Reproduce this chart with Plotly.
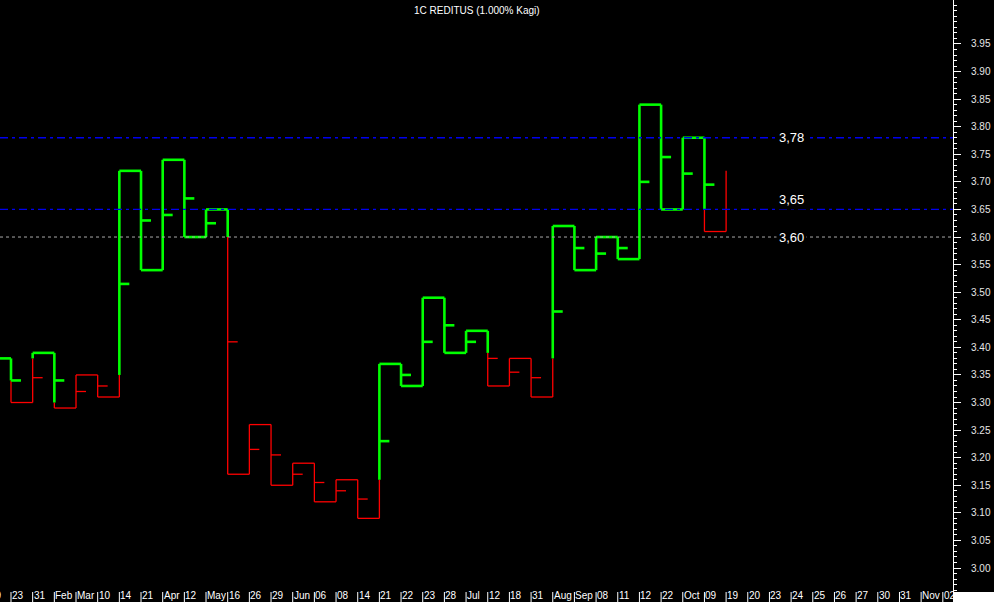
import plotly.graph_objects as go

# ---------------- data ----------------
title_text = "1C REDITUS (1.000% Kagi)"
# Kagi reversal levels (first value is the off-screen start of the first segment)
levels = [3.34, 3.38, 3.30, 3.39, 3.29, 3.35, 3.31, 3.72, 3.54, 3.74, 3.60, 3.65,
          3.17, 3.26, 3.15, 3.19, 3.12, 3.16, 3.09, 3.37, 3.33, 3.49, 3.39, 3.43,
          3.33, 3.38, 3.31, 3.62, 3.54, 3.60, 3.56, 3.84, 3.65, 3.78, 3.61, 3.72]
first_col = -1
date_labels = ["19", "23", "31", "Feb", "Mar", "10", "14", "21", "Apr", "12", "May",
               "16", "26", "29", "Jun", "06", "08", "14", "21", "22", "23", "28",
               "Jul", "12", "18", "31", "Aug", "Sep", "08", "11", "12", "22", "Oct",
               "09", "19", "20", "23", "24", "25", "26", "27", "30", "31", "Nov", "02"]
ref_levels = [3.78, 3.65]
ref_labels = ["3,78", "3,65"]
dot_level = 3.60
dot_label = "3,60"
ytick_vals = [round(3.00 + 0.05 * i, 2) for i in range(20)]

# ---------------- layout constants ----------------
X0, X1 = -0.5076, 43.47
Y0, Y1 = 2.9565, 4.0297
GREEN, RED = "#00ff00", "#ff0000"
TICK_LEN = 0.46

# ---------------- build kagi segments ----------------
gx, gy, rx, ry = [], [], [], []


def add(color, xs, ys):
    if color == "g":
        gx.extend(xs + [None]); gy.extend(ys + [None])
    else:
        rx.extend(xs + [None]); ry.extend(ys + [None])


state = "g"
n = len(levels) - 1
for j in range(n):
    c = first_col + j
    a, b = levels[j], levels[j + 1]
    start_state = state
    switch = None
    if j >= 1:
        prev = levels[j - 1]
        if b > a and state == "r" and b > prev:
            switch = prev
        elif b < a and state == "g" and b < prev:
            switch = prev
    if switch is None:
        add(state, [c, c], [a, b])
    else:
        add(state, [c, c], [a, switch])
        state = "g" if state == "r" else "r"
        add(state, [c, c], [switch, b])
    if j < n - 1:
        # midpoint marker
        mid = (a + b) / 2
        if switch is None:
            mcol = state
        else:
            if b > a:
                mcol = state if mid > switch else start_state
            else:
                mcol = state if mid < switch else start_state
        add(mcol, [c, c + TICK_LEN], [mid, mid])
        # horizontal connector
        add(state, [c, c + 1], [b, b])

fig = go.Figure()
fig.add_trace(go.Scatter(x=rx, y=ry, mode="lines", line=dict(color=RED, width=1.3),
                         hoverinfo="skip", showlegend=False))
fig.add_trace(go.Scatter(x=gx, y=gy, mode="lines", line=dict(color=GREEN, width=2.6),
                         hoverinfo="skip", showlegend=False))

shapes = []
for lv in ref_levels:
    shapes.append(dict(type="line", xref="paper", x0=0, x1=1, yref="y", y0=lv, y1=lv,
                       line=dict(color="#0000ee", width=1.3, dash="8px,4px,3px,4px"),
                       layer="above"))
shapes.append(dict(type="line", xref="paper", x0=0, x1=1, yref="y", y0=dot_level,
                   y1=dot_level, line=dict(color="#a8a8a8", width=1, dash="3px,3px"),
                   layer="above"))
# x label separators
for k in range(len(date_labels)):
    c = first_col + k
    shapes.append(dict(type="line", xref="x", x0=c, x1=c, yref="paper", y0=0,
                       y1=-12 / 592, line=dict(color="white", width=1)))
# white bottom-right corner box
shapes.append(dict(type="rect", xref="paper", x0=1, x1=1 + 41 / 953, yref="paper",
                   y0=-12 / 592, y1=0, fillcolor="white", line=dict(width=0)))

annotations = []
annotations.append(dict(text=title_text, xref="paper", yref="paper", x=0.5, y=1,
                        yshift=-3, xanchor="center", yanchor="top", showarrow=False,
                        font=dict(family="Liberation Sans, Arial", size=10,
                                  color="white")))
for k, lab in enumerate(date_labels):
    c = first_col + k
    xp = (c - X0) / (X1 - X0)
    annotations.append(dict(text=lab, xref="paper", yref="paper", x=xp, y=-10 / 592,
                            xanchor="left", yanchor="bottom", xshift=0, yshift=0,
                            borderpad=0, showarrow=False,
                            font=dict(family="Liberation Sans, Arial", size=10,
                                      color="white")))
label_col = 36
for lv, lab, sh in [(ref_levels[0], ref_labels[0], 0), (ref_levels[1], ref_labels[1], 10),
                    (dot_level, dot_label, 0)]:
    annotations.append(dict(text=lab, xref="x", yref="y", x=label_col, y=lv, yshift=sh,
                            xanchor="center", yanchor="middle", showarrow=False,
                            bgcolor="black", borderpad=2,
                            font=dict(family="Liberation Sans, Arial", size=13,
                                      color="white")))

fig.update_layout(
    width=994, height=602,
    margin=dict(l=0, r=41, t=0, b=10, pad=0),
    paper_bgcolor="black", plot_bgcolor="black",
    shapes=shapes, annotations=annotations,
    xaxis=dict(range=[X0, X1], showgrid=False, zeroline=False, showticklabels=False,
               ticks="", showline=False, fixedrange=True),
    yaxis=dict(range=[Y0, Y1], side="right", showgrid=False, zeroline=False,
               showline=True, linecolor="white", linewidth=1,
               tickvals=ytick_vals, tickformat=".2f", ticks="outside", ticklen=7,
               tickcolor="white", tickwidth=1, ticklabelstandoff=8,
               tickfont=dict(family="Liberation Sans, Arial", size=10, color="#e6e6e6"),
               minor=dict(dtick=0.01, tick0=3.0, ticks="outside", ticklen=3,
                          tickcolor="white", tickwidth=1),
               fixedrange=True),
)

fig.write_html(
    "out.html",
    config={"displayModeBar": False},
    post_script="document.body.style.margin='0';document.body.style.overflow='hidden';"
                "document.documentElement.style.overflow='hidden';"
                "document.body.style.background='black';",
)
